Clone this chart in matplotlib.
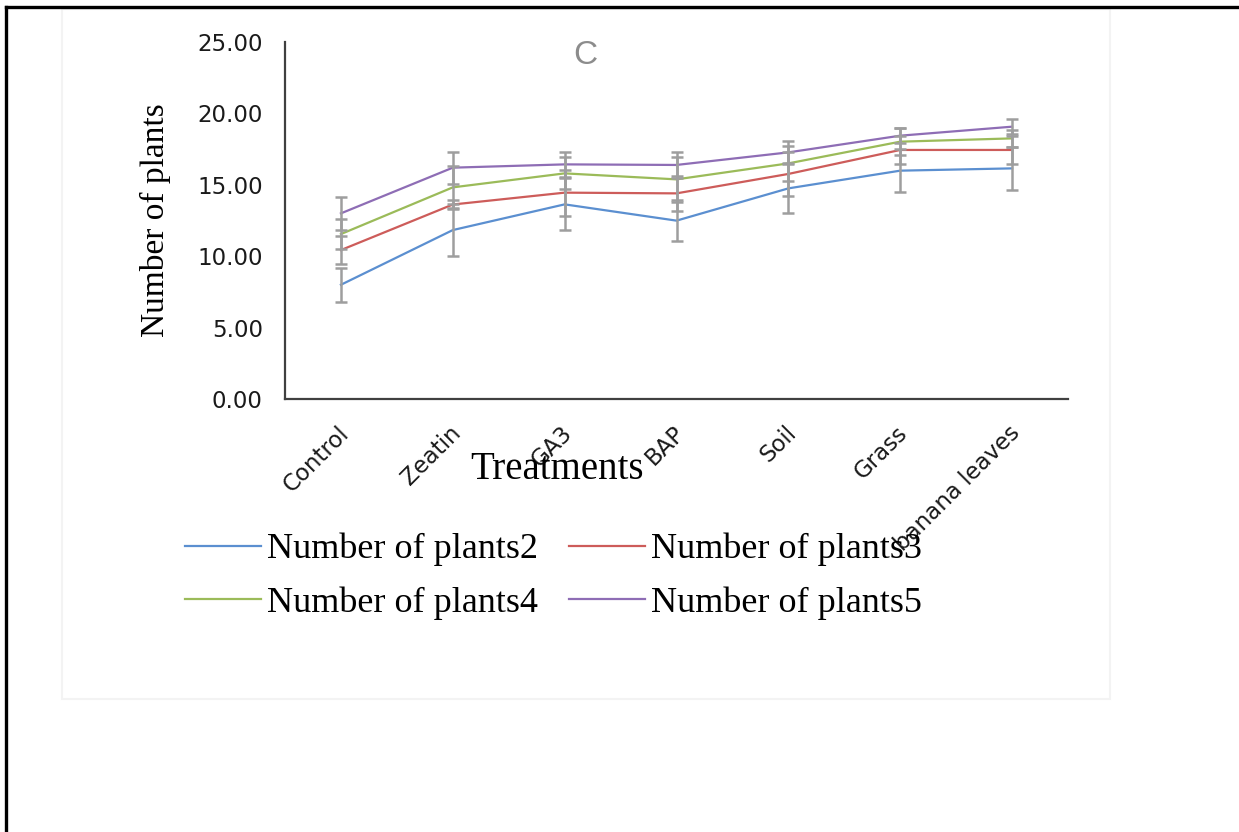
import matplotlib.pyplot as plt
from matplotlib.lines import Line2D
from matplotlib.patches import Rectangle
from matplotlib.transforms import ScaledTranslation

# ---- data ----
treatments = ['Control', 'Zeatin', 'GA3', 'BAP', 'Soil', 'Grass', 'banana leaves']

plants2 = [8.00, 11.83, 13.63, 12.49, 14.75, 15.99, 16.15]
plants3 = [10.43, 13.62, 14.45, 14.40, 15.76, 17.44, 17.44]
plants4 = [11.55, 14.82, 15.80, 15.38, 16.50, 18.02, 18.25]
plants5 = [13.00, 16.20, 16.43, 16.39, 17.27, 18.44, 19.07]

err2 = [1.20, 1.83, 1.82, 1.45, 1.75, 1.49, 1.51]
err3 = [1.00, 0.30, 1.60, 1.23, 1.57, 1.01, 1.00]
err4 = [1.03, 1.47, 1.12, 1.60, 1.23, 0.93, 0.58]
err5 = [1.17, 1.12, 0.89, 0.93, 0.82, 0.51, 0.51]

series_names = ['Number of plants2', 'Number of plants3',
                'Number of plants4', 'Number of plants5']
colors = ['#5B8FD0', '#CD5C5A', '#9BBB59', '#8E6DB5']

# ---- figure ----
W, H = 1239, 832
fig = plt.figure(figsize=(W / 100, H / 100), dpi=100)
fig.patch.set_facecolor('white')

# page border (top and left rule) and faint chart-area box
fig.add_artist(Line2D([6 / W, 1], [1 - 7 / H, 1 - 7 / H], color='black', lw=2.4,
                      transform=fig.transFigure))
fig.add_artist(Line2D([6 / W, 6 / W], [0, 1 - 7 / H], color='black', lw=2.4,
                      transform=fig.transFigure))
fig.add_artist(Rectangle((62 / W, 1 - 699 / H), (1110 - 62) / W, (699 - 9) / H,
                         transform=fig.transFigure, fill=False,
                         edgecolor='#f3f3f3', lw=1.5))

ax = fig.add_axes([285 / W, 1 - 399 / H, 783 / W, 357 / H])

x = list(range(len(treatments)))
all_vals = [plants2, plants3, plants4, plants5]
all_errs = [err2, err3, err4, err5]

for vals, c, name in zip(all_vals, colors, series_names):
    ax.plot(x, vals, color=c, lw=1.6, label=name, zorder=3)

for vals, errs in zip(all_vals, all_errs):
    ax.errorbar(x, vals, yerr=errs, fmt='none', ecolor='#9e9e9e',
                elinewidth=1.8, capsize=4.5, capthick=1.8, zorder=4)

ax.set_xlim(-0.5, len(treatments) - 0.5)
ax.set_ylim(0, 25)
ax.set_yticks([0, 5, 10, 15, 20, 25])
ax.set_yticklabels([f'{v:.2f}' for v in [0, 5, 10, 15, 20, 25]])
ax.set_xticks(x)
ax.set_xticklabels(treatments, rotation=45, ha='right', va='center',
                   rotation_mode='anchor')
ax.tick_params(axis='both', length=0, labelsize=16.5, colors='#1a1a1a')
ax.tick_params(axis='y', pad=16)
ax.tick_params(axis='x', pad=22)
shift = ScaledTranslation(3 / 72, 0, fig.dpi_scale_trans)
for lab in ax.get_xticklabels():
    lab.set_transform(lab.get_transform() + shift)

for side in ['top', 'right']:
    ax.spines[side].set_visible(False)
for side in ['left', 'bottom']:
    ax.spines[side].set_color('#404040')
    ax.spines[side].set_linewidth(1.6)

ax.set_facecolor('none')

# panel letter, axis titles
fig.text(585 / W, 1 - 55 / H, 'C', ha='center', va='center', fontsize=24,
         color='#8c8c8c', family='Liberation Sans')
fig.text(155 / W, 1 - 220 / H, 'Number of plants', rotation=90, ha='center',
         va='center', fontsize=24, family='Liberation Serif')
fig.text(557 / W, 1 - 469 / H, 'Treatments', ha='center', va='center',
         fontsize=28, family='Liberation Serif')

# legend filled row by row: 2 & 3 on top, 4 & 5 below
handles, labels = ax.get_legend_handles_labels()
order = [0, 2, 1, 3]
fig.legend([handles[i] for i in order], [labels[i] for i in order], ncol=2,
           loc='upper left', bbox_to_anchor=(185 / W, 1 - 533 / H),
           frameon=False, prop={'family': 'Liberation Serif', 'size': 26},
           handlelength=2.1, handletextpad=0.17, columnspacing=0.85,
           labelspacing=0.55, borderpad=0, borderaxespad=0)

fig.savefig('out.png', dpi=100)
